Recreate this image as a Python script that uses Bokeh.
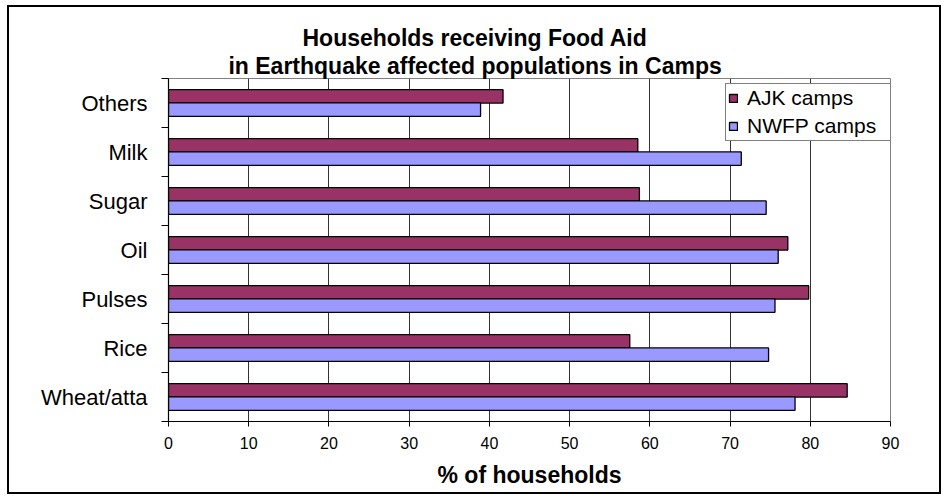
from bokeh.plotting import figure
from bokeh.models import (Range1d, FixedTicker, LinearAxis, Title, Grid,
                          ColumnDataSource, Legend, LegendItem)
from bokeh.embed import file_html
from bokeh.resources import INLINE

# ---- data (bottom to top as drawn) ----
categories = ["Wheat/atta", "Rice", "Pulses", "Oil", "Sugar", "Milk", "Others"]
ajk_camps = [84.6, 57.5, 79.8, 77.2, 58.7, 58.5, 41.7]
nwfp_camps = [78.1, 74.8, 75.6, 76.0, 74.5, 71.4, 38.9]
x_ticks = [0, 10, 20, 30, 40, 50, 60, 70, 80, 90]
title_lines = ["Households receiving Food Aid", "in Earthquake affected populations in Camps"]
x_label = "% of households"

FONT = "Liberation Sans"
AJK_COLOR = "#993366"
NWFP_COLOR = "#9999FF"

idx = list(range(len(categories)))
src = ColumnDataSource(dict(
    pos=idx,
    ajk_y=[i + 0.635 for i in idx],
    nwfp_y=[i + 0.365 for i in idx],
    ajk=ajk_camps,
    nwfp=nwfp_camps,
))

# canvas placed inside a bordered box (outer chart border)
OX, OY = 9, 7
W, H = 930, 485
L = 168 - OX
T = 78 - OY
R = (OX + W) - 891 + 5
B = (OY + H) - 421 + 4

p = figure(width=W, height=H, output_backend="svg", toolbar_location=None,
           x_range=Range1d(0, 90), y_range=Range1d(0, len(categories)),
           min_border_left=L, min_border_right=R, min_border_top=T, min_border_bottom=B,
           x_axis_type=None, y_axis_type=None)
p.margin = (5, 0, 0, 7)
p.styles = {"border": "2px solid black", "box-sizing": "content-box"}
p.background_fill_color = "white"
p.border_fill_color = "white"
p.outline_line_color = "#808080"
p.outline_line_width = 1

bar_h = 0.275
r_ajk = p.hbar(y="ajk_y", right="ajk", left=0, height=bar_h, source=src,
               fill_color=AJK_COLOR, line_color="black", line_width=1.3)
r_nwfp = p.hbar(y="nwfp_y", right="nwfp", left=0, height=bar_h, source=src,
                fill_color=NWFP_COLOR, line_color="black", line_width=1.3)

# x axis
xaxis = LinearAxis(ticker=FixedTicker(ticks=x_ticks))
xaxis.axis_line_color = "black"
xaxis.axis_line_width = 1.2
xaxis.major_tick_out = 5
xaxis.major_tick_in = 0
xaxis.minor_tick_line_color = None
xaxis.major_tick_line_color = "black"
xaxis.major_label_text_font = FONT
xaxis.major_label_text_font_size = "16px"
xaxis.major_label_text_color = "black"
xaxis.major_label_standoff = 10
xaxis.axis_label = x_label
xaxis.axis_label_text_font = FONT
xaxis.axis_label_text_font_size = "23px"
xaxis.axis_label_text_font_style = "bold"
xaxis.axis_label_text_color = "black"
xaxis.axis_label_standoff = 10
p.add_layout(xaxis, "below")

# y axis: labels at category centres, ticks at boundaries
centers = [i + 0.5 for i in idx]
yaxis = LinearAxis(ticker=FixedTicker(ticks=centers, minor_ticks=list(range(len(categories) + 1))))
yaxis.major_label_overrides = {c: name for c, name in zip(centers, categories)}
yaxis.major_tick_out = 0
yaxis.major_tick_in = 0
yaxis.minor_tick_out = 7
yaxis.minor_tick_in = 0
yaxis.minor_tick_line_color = "black"
yaxis.axis_line_color = "black"
yaxis.axis_line_width = 1.2
yaxis.major_label_text_font = FONT
yaxis.major_label_text_font_size = "22px"
yaxis.major_label_text_color = "black"
yaxis.major_label_standoff = 14
p.add_layout(yaxis, "left")

# vertical gridlines
g = Grid(dimension=0, ticker=xaxis.ticker, grid_line_color="#333333", grid_line_width=1)
p.add_layout(g)

# legend
legend = Legend(items=[LegendItem(label="AJK camps", renderers=[r_ajk]),
                       LegendItem(label="NWFP camps", renderers=[r_nwfp])],
                location=(557, 280))
legend.label_text_font = FONT
legend.label_text_font_size = "21px"
legend.label_text_color = "black"
legend.glyph_width = 10
legend.glyph_height = 10
legend.label_standoff = 9
legend.label_height = 22
legend.label_width = 143
legend.spacing = 4
legend.padding = 2
legend.margin = 0
legend.border_line_color = "black"
legend.border_line_width = 1
legend.background_fill_color = "white"
legend.background_fill_alpha = 1
p.add_layout(legend)

# two-line title, centred over the whole chart (approx. Arial-bold widths in em)
TITLE_PX = 23
title_em = [15.0, 21.44]
chart_center = 474.5
for line, em in reversed(list(zip(title_lines, title_em))):
    left_off = chart_center - em * TITLE_PX / 2 - 168
    p.add_layout(Title(text=line, align="left", offset=left_off,
                       text_font=FONT, text_font_size=f"{TITLE_PX}px", text_font_style="bold",
                       text_color="black", standoff=0), "above")

open("out.html", "w").write(file_html(p, INLINE))
